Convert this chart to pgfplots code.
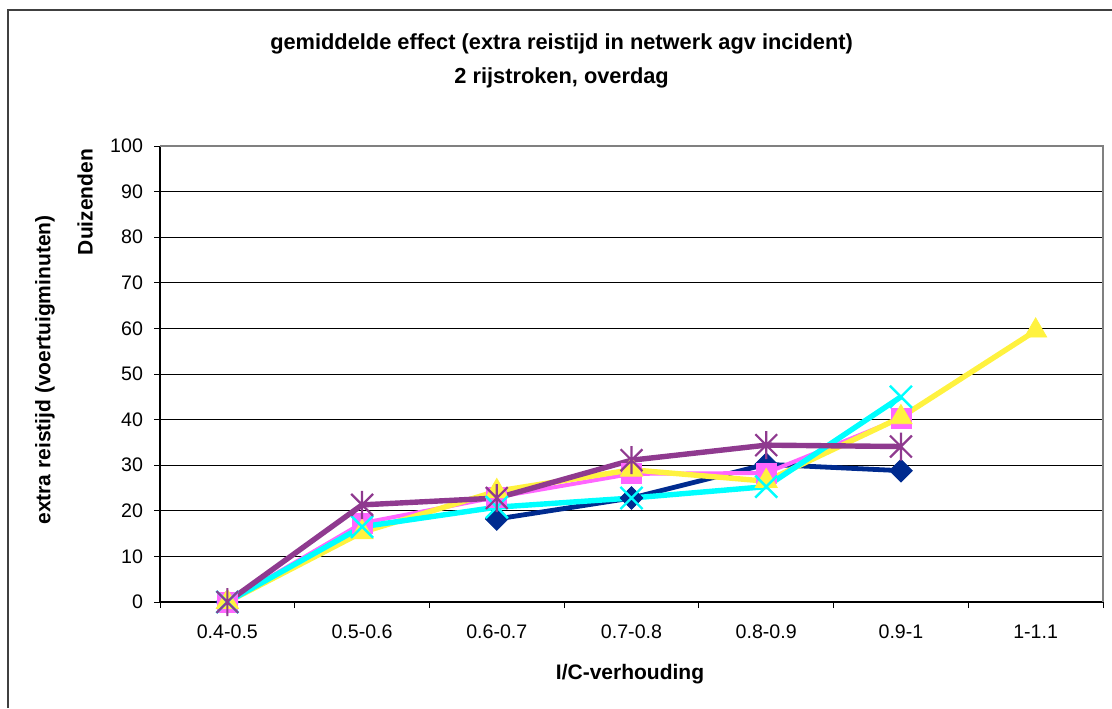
\documentclass[border=0pt]{standalone}
\usepackage{fontspec}
\setmainfont{Liberation Sans}
\usepackage{pgfplots}
\pgfplotsset{compat=1.18}
\definecolor{cnavy}{HTML}{002B8F}
\definecolor{cmag}{HTML}{FF66FF}
\definecolor{cyel}{HTML}{FFF23F}
\definecolor{ccyan}{HTML}{00FFFF}
\definecolor{cpurp}{HTML}{8F3A8F}
\pgfdeclareplotmark{xast}{%
  \pgfpathmoveto{\pgfqpoint{-.78\pgfplotmarksize}{-.78\pgfplotmarksize}}%
  \pgfpathlineto{\pgfqpoint{.78\pgfplotmarksize}{.78\pgfplotmarksize}}%
  \pgfpathmoveto{\pgfqpoint{-.78\pgfplotmarksize}{.78\pgfplotmarksize}}%
  \pgfpathlineto{\pgfqpoint{.78\pgfplotmarksize}{-.78\pgfplotmarksize}}%
  \pgfpathmoveto{\pgfqpoint{0pt}{-\pgfplotmarksize}}%
  \pgfpathlineto{\pgfqpoint{0pt}{\pgfplotmarksize}}%
  \pgfusepathqstroke}
\begin{document}
\begin{tikzpicture}
\useasboundingbox (0,0) rectangle (556pt,354pt);
\draw[black!75, line width=0.8pt] (4pt,0) -- (4pt,349pt) -- (556pt,349pt);
\begin{axis}[
  at={(80pt,53pt)}, anchor=south west,
  width=471.5pt, height=228pt, scale only axis,
  xmin=-0.5, xmax=6.5, ymin=0, ymax=100,
  clip=false,
  unbounded coords=jump,
  axis x line*=bottom, axis y line*=left,
  axis line style={black, line width=0.6pt},
  xtick={0,...,6},
  xticklabels={0.4-0.5,0.5-0.6,0.6-0.7,0.7-0.8,0.8-0.9,0.9-1,1-1.1},
  minor xtick={-0.5,0.5,1.5,2.5,3.5,4.5,5.5,6.5},
  major x tick style={draw=none},
  minor x tick style={black, line width=0.5pt},
  ytick={0,10,...,100},
  y tick style={black, line width=0.5pt},
  tick align=outside,
  major tick length=3pt, minor tick length=3pt,
  ymajorgrids,
  major y grid style={black, line width=0.45pt},
  tick label style={font=\fontsize{9.8}{11}\selectfont},
  every x tick label/.append style={yshift=-5pt},
  every y tick label/.append style={xshift=-2pt},
  /pgf/number format/assume math mode=true,
  after end axis/.code={
    \draw[gray, line width=0.6pt] (rel axis cs:0,1) -- (rel axis cs:1,1) -- (rel axis cs:1,0);
  },
]
\addplot[cnavy, line width=2.4pt, mark=square*, mark size=4pt,
  mark options={rotate=45, solid, line width=0.4pt}]
  coordinates {(0,0) (1,nan) (2,18.2) (3,22.8) (4,30.2) (5,28.8)};
\addplot[cmag, line width=2pt, mark=square*, mark size=5pt,
  mark options={solid, line width=0.4pt}]
  coordinates {(0,0) (1,17.3) (2,23) (3,28.1) (4,28.3) (5,40.3)};
\addplot[cyel, line width=2.7pt, mark=triangle*, mark size=6.4pt,
  mark options={solid, line width=0.4pt}]
  coordinates {(0,0) (1,15.3) (2,24.3) (3,29) (4,26.5) (5,40.5) (6,59.5)};
\addplot[ccyan, line width=2.7pt, mark=x, mark size=7.8pt,
  mark options={solid, line width=1.2pt}]
  coordinates {(0,0) (1,16.5) (2,20.8) (3,22.8) (4,25.3) (5,45)};
\addplot[cpurp, line width=2.7pt, mark=xast, mark size=7pt,
  mark options={solid, line width=1.1pt}]
  coordinates {(0,0) (1,21.3) (2,22.8) (3,31.1) (4,34.4) (5,34.1)};
\end{axis}
\node[font=\bfseries\fontsize{10.9}{12}\selectfont] at (280.8pt,332pt) {gemiddelde effect (extra reistijd in netwerk agv incident)};
\node[font=\bfseries\fontsize{10.9}{12}\selectfont] at (280.8pt,315pt) {2 rijstroken, overdag};
\node[font=\bfseries\fontsize{10.5}{12}\selectfont, rotate=90] at (22.5pt,169pt) {extra reistijd (voertuigminuten)};
\node[font=\bfseries\fontsize{10.5}{12}\selectfont, rotate=90] at (42.5pt,253pt) {Duizenden};
\node[font=\bfseries\fontsize{10.5}{12}\selectfont] at (315pt,17pt) {I/C-verhouding};
\end{tikzpicture}
\end{document}
